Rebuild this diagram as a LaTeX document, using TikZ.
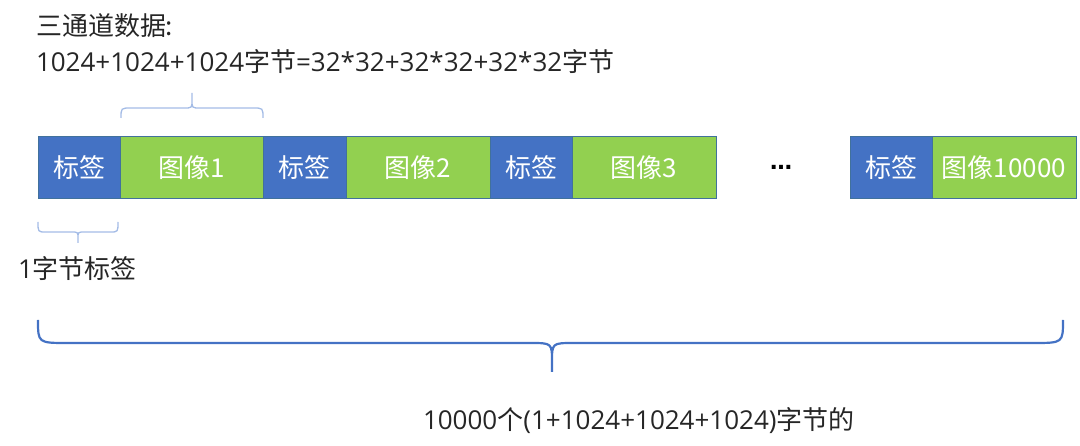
\documentclass[tikz,border=0pt]{standalone}
\usepackage{fontspec}
\setmainfont{Noto Sans CJK SC}
\newfontfamily\dotsfont{DejaVu Sans}
\newfontfamily\lat{Open Sans}
\definecolor{tagblue}{HTML}{4472C4}
\definecolor{imggreen}{HTML}{92D050}
\definecolor{boxline}{HTML}{41719C}
\definecolor{lightbrace}{HTML}{A4BCE6}
\definecolor{bigbrace}{HTML}{4472C4}
\definecolor{txt}{HTML}{262626}
\begin{document}
\begin{tikzpicture}[x=1pt,y=-1pt,
  seg/.style={draw=boxline, line width=1pt, minimum height=62pt, inner sep=0pt, outer sep=0pt,
    text=white, font=\fontsize{26}{30}\selectfont, anchor=north west},
  tagbox/.style={seg, fill=tagblue, minimum width=#1},
  imgbox/.style={seg, fill=imggreen, minimum width=#1},
  plain/.style={inner sep=0pt, outer sep=0pt, text=txt, font=\fontsize{26}{30}\selectfont},
  smallbrace/.style={draw=lightbrace, line width=1.3pt},
  largebrace/.style={draw=bigbrace, line width=2.2pt},
]
\useasboundingbox (0,0) rectangle (1080,446);

% strip segments
\node[tagbox=82pt] (t1) at (38,137) {标签};
\node[imgbox=143pt] (i1) at (120,137) {图像1};
\node[tagbox=83pt] (t2) at (263,137) {标签};
\node[imgbox=144pt] (i2) at (346,137) {图像2};
\node[tagbox=82pt] (t3) at (490,137) {标签};
\node[imgbox=144pt] (i3) at (572,137) {图像3};
\node[tagbox=82pt] (t4) at (850,137) {标签};
\node[imgbox=144pt] (i4) at (932,137) {图像10000};

% ellipsis
\node[inner sep=0pt, anchor=base, font=\dotsfont\bfseries\fontsize{22}{26}\selectfont, text=black] (dots) at (781,170) {…};

% texts
\node[plain, anchor=base west] (title) at (36,36) {三通道数据:};
\node[plain, anchor=base west] (formula) at (36,72) {{\lat 1024+1024+1024}字节{\lat =32*32+32*32+32*32}字节};
\node[plain, anchor=base west] (onebyte) at (18,279) {{\lat 1}字节标签};
\node[plain, anchor=base west] (total) at (423,430) {{\lat 10000}个{\lat (1+1024+1024+1024)}字节的};

% top brace over image 1
\coordinate (tbL) at (121,118);
\coordinate (tbR) at (263,118);
\coordinate (tbT) at (192,93);
\draw[smallbrace] (tbL) .. controls (121,108) .. (131,108) -- (184,108)
  .. controls (192,108) .. (192,100) -- (tbT) -- (192,100)
  .. controls (192,108) .. (200,108) -- (253,108) .. controls (263,108) .. (tbR);

% brace under first tag
\coordinate (bbL) at (38,222);
\coordinate (bbR) at (118,222);
\coordinate (bbT) at (78,243);
\draw[smallbrace] (bbL) .. controls (38,232) .. (46,232) -- (71,232)
  .. controls (78,232) .. (78,238) -- (bbT) -- (78,238)
  .. controls (78,232) .. (85,232) -- (110,232) .. controls (118,232) .. (bbR);

% big brace
\coordinate (gbL) at (38,320);
\coordinate (gbR) at (1063,320);
\coordinate (gbT) at (552,372);
\draw[largebrace] (gbL) .. controls (38,343) .. (68,343) -- (530,343)
  .. controls (552,343) .. (552,362) -- (gbT) -- (552,362)
  .. controls (552,343) .. (574,343) -- (1033,343) .. controls (1063,343) .. (gbR);
\end{tikzpicture}
\end{document}
